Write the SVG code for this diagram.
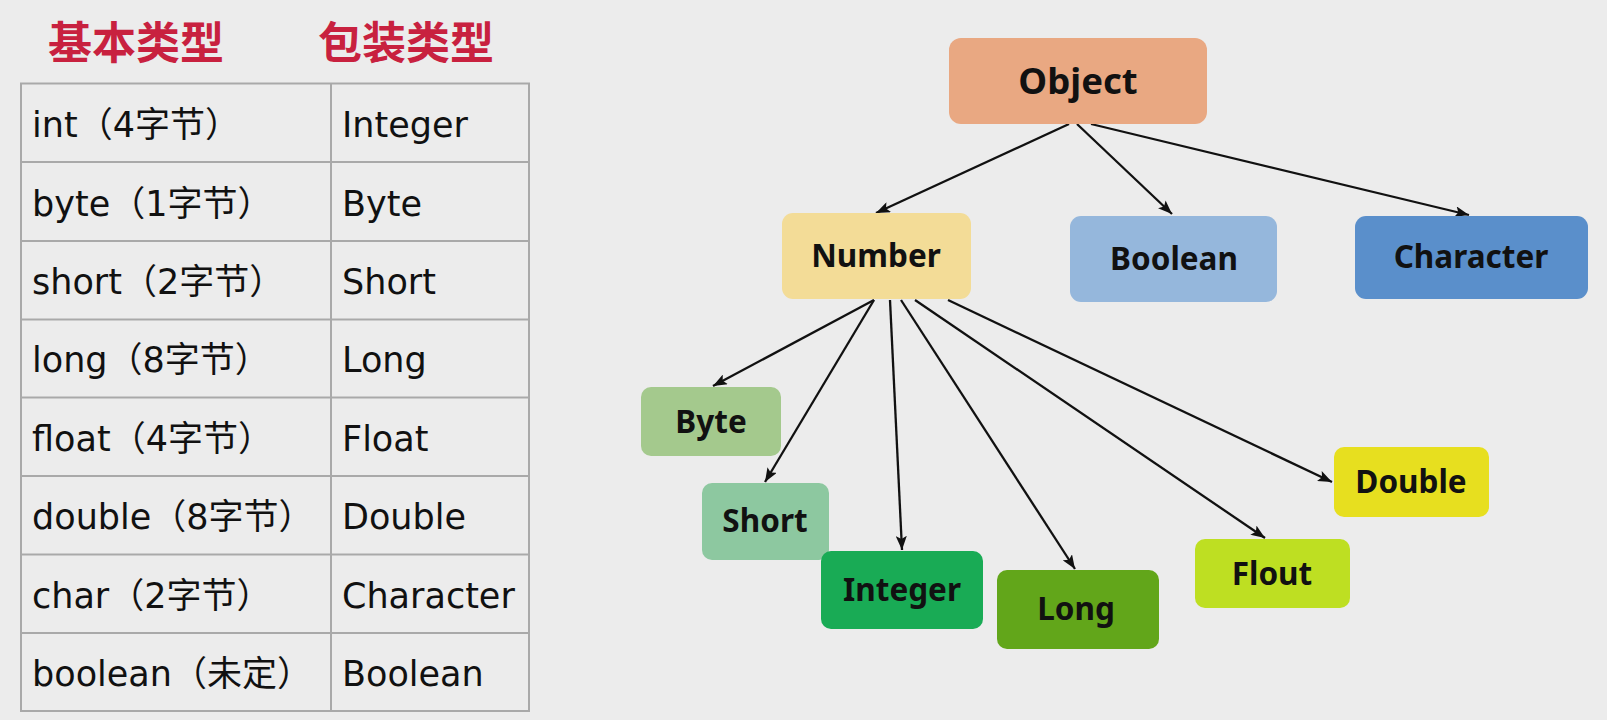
<svg xmlns="http://www.w3.org/2000/svg" width="1607" height="720" viewBox="0 0 1607 720">
<defs>
<marker id="ah" markerWidth="15" markerHeight="11" refX="14" refY="5.5" orient="auto" markerUnits="userSpaceOnUse">
<path d="M0,0 L14,5.5 L0,11 L3,5.5 z" fill="#111"/>
</marker>
<style>
.hdr{font-family:"Noto Sans CJK SC","Noto Sans",sans-serif;font-weight:bold;font-size:44px;fill:#C8213F}
.cell{font-family:"DejaVu Sans","Noto Sans CJK SC",sans-serif;font-size:35px;fill:#111}
.grid{stroke:#A9A9A9;stroke-width:2;fill:none}
.lbl{font-family:"Noto Sans","Open Sans",sans-serif;font-weight:bold;font-size:31.5px;fill:#111;text-anchor:middle}
.big{font-size:36.5px}
.edge{stroke:#111;stroke-width:2.3;fill:none;marker-end:url(#ah)}
</style>
</defs>
<rect width="1607" height="720" fill="#ECECEC"/>

<g id="table">
<text class="hdr" x="48" y="59">基本类型</text>
<text class="hdr" x="318" y="59">包装类型</text>
<rect class="grid" x="21" y="83.5" width="508" height="627.5"/>
<line class="grid" x1="331" y1="83.5" x2="331" y2="711"/>
<line class="grid" x1="21" y1="162" x2="529" y2="162"/>
<line class="grid" x1="21" y1="241" x2="529" y2="241"/>
<line class="grid" x1="21" y1="319.5" x2="529" y2="319.5"/>
<line class="grid" x1="21" y1="397.5" x2="529" y2="397.5"/>
<line class="grid" x1="21" y1="476" x2="529" y2="476"/>
<line class="grid" x1="21" y1="554.5" x2="529" y2="554.5"/>
<line class="grid" x1="21" y1="633" x2="529" y2="633"/>
<text class="cell" x="32" y="137">int（4字节）</text>
<text class="cell" x="342" y="137">Integer</text>
<text class="cell" x="32" y="215.5">byte（1字节）</text>
<text class="cell" x="342" y="215.5">Byte</text>
<text class="cell" x="32" y="294">short（2字节）</text>
<text class="cell" x="342" y="294">Short</text>
<text class="cell" x="32" y="372">long（8字节）</text>
<text class="cell" x="342" y="372">Long</text>
<text class="cell" x="32" y="450.5">float（4字节）</text>
<text class="cell" x="342" y="450.5">Float</text>
<text class="cell" x="32" y="529">double（8字节）</text>
<text class="cell" x="342" y="529">Double</text>
<text class="cell" x="32" y="607.5">char（2字节）</text>
<text class="cell" x="342" y="607.5">Character</text>
<text class="cell" x="32" y="686">boolean（未定）</text>
<text class="cell" x="342" y="686">Boolean</text>
</g>

<g id="connectors">
<line class="edge" x1="1069" y1="124" x2="876" y2="213"/>
<line class="edge" x1="1077" y1="124" x2="1172" y2="214"/>
<line class="edge" x1="1091" y1="124" x2="1469" y2="215"/>
<line class="edge" x1="874" y1="300" x2="713" y2="386"/>
<line class="edge" x1="874" y1="300" x2="765" y2="482"/>
<line class="edge" x1="890" y1="300" x2="902" y2="550"/>
<line class="edge" x1="901" y1="300" x2="1075" y2="569"/>
<line class="edge" x1="915" y1="300" x2="1265" y2="538"/>
<line class="edge" x1="948" y1="300" x2="1332" y2="482"/>
</g>

<g id="node-object"><rect x="949" y="38" width="258" height="86" rx="12" fill="#E9A882"/><text class="lbl big" x="1078" y="94">Object</text></g>
<g id="node-number"><rect x="782" y="213" width="189" height="86" rx="11" fill="#F3DC97"/><text class="lbl" x="876" y="267">Number</text></g>
<g id="node-boolean"><rect x="1070" y="216" width="207" height="86" rx="11" fill="#95B7DC"/><text class="lbl" x="1174" y="270">Boolean</text></g>
<g id="node-character"><rect x="1355" y="216" width="233" height="83" rx="11" fill="#5A8FCB"/><text class="lbl" x="1471" y="268">Character</text></g>
<g id="node-byte"><rect x="641" y="387" width="140" height="69" rx="10" fill="#A4C98D"/><text class="lbl" x="711" y="433">Byte</text></g>
<g id="node-short"><rect x="702" y="483" width="127" height="77" rx="10" fill="#8DC8A0"/><text class="lbl" x="765" y="532">Short</text></g>
<g id="node-integer"><rect x="821" y="551" width="162" height="78" rx="10" fill="#19AB55"/><text class="lbl" x="902" y="601">Integer</text></g>
<g id="node-long"><rect x="997" y="570" width="162" height="79" rx="10" fill="#62A61A"/><text class="lbl" x="1076" y="620">Long</text></g>
<g id="node-flout"><rect x="1195" y="539" width="155" height="69" rx="10" fill="#BEDF22"/><text class="lbl" x="1272" y="585">Flout</text></g>
<g id="node-double"><rect x="1334" y="447" width="155" height="70" rx="10" fill="#E7DF1F"/><text class="lbl" x="1411" y="493">Double</text></g>
</svg>
